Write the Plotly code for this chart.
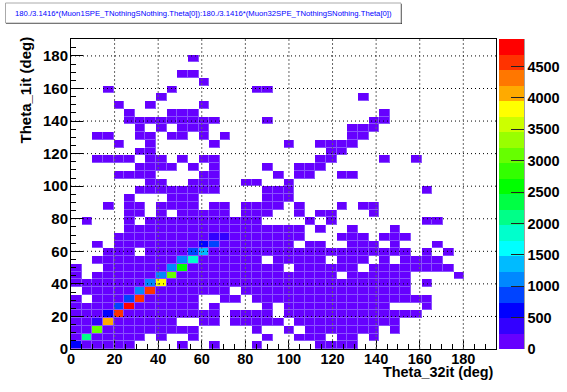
import plotly.graph_objects as go

W, H = 567, 392
L, R, T, B = 71, 496, 39, 349
N_BINS = 40
X_MAX, Y_MAX = 195.0, 190.4
Z_MAX = 4940
TITLE = "180./3.1416*(Muon1SPE_TNothingSNothing.Theta[0]):180./3.1416*(Muon32SPE_TNothingSNothing.Theta[0])"
X_LABEL = "Theta_32it (deg)"
Y_LABEL = "Theta_1it (deg)"
BAND_COLORS = ["#6600ff", "#3300ff", "#0000ff", "#0044ff", "#0088ff", "#00bbff", "#00ffff",
               "#00ffcc", "#00ff88", "#00ff44", "#00ff00", "#33ff00", "#66ff00", "#99ff00",
               "#ccff00", "#ffff00", "#ffaa00", "#ff7700", "#ff3300", "#ff0000"]

# Occupied bins per row (row index from bottom): inclusive column spans; each holds a low count
LOW_COUNT = 100
filled_spans = {
    37: [(11, 11)],
    35: [(10, 11)],
    34: [(12, 12)],
    33: [(3, 3), (9, 9), (17, 18)],
    32: [(8, 8), (27, 27)],
    31: [(4, 4), (7, 7), (12, 12)],
    30: [(5, 5), (9, 11), (29, 29)],
    29: [(5, 13), (18, 18), (28, 29)],
    28: [(6, 6), (8, 8), (10, 12), (26, 28)],
    27: [(2, 3), (6, 7), (9, 10), (12, 12), (14, 14), (26, 27)],
    26: [(4, 4), (7, 7), (13, 13), (20, 20), (23, 26)],
    25: [(6, 7), (24, 25)],
    24: [(2, 5), (7, 8), (10, 10), (12, 13), (23, 24), (29, 29), (32, 32)],
    23: [(6, 9), (11, 11), (13, 13), (18, 18), (21, 23)],
    22: [(4, 7), (12, 13), (19, 19), (21, 22), (25, 26)],
    21: [(7, 8), (11, 13), (16, 17), (20, 20)],
    20: [(6, 13), (18, 20), (33, 33)],
    19: [(5, 5), (9, 11), (18, 20)],
    18: [(3, 3), (5, 6), (8, 11), (13, 14), (16, 19), (21, 21), (25, 25), (27, 28)],
    17: [(5, 6), (8, 8), (10, 14), (16, 18), (21, 21), (23, 24), (28, 28)],
    16: [(1, 1), (5, 5), (7, 17), (22, 22), (24, 24), (33, 34)],
    15: [(5, 21), (23, 23), (26, 26), (30, 30)],
    14: [(4, 21), (25, 27), (29, 31)],
    13: [(2, 2), (4, 20), (22, 23), (26, 28), (30, 30), (34, 34)],
    12: [(3, 5), (7, 31), (33, 33), (35, 35)],
    11: [(2, 17), (19, 23), (25, 27), (29, 29), (31, 34)],
    10: [(0, 0), (3, 19), (21, 26), (28, 35)],
    9: [(0, 0), (2, 24), (26, 31), (36, 36)],
    8: [(0, 31), (33, 33)],
    7: [(1, 14), (16, 31)],
    6: [(0, 0), (2, 11), (14, 15), (17, 33)],
    5: [(0, 11), (13, 13), (18, 18), (20, 29), (33, 33)],
    4: [(0, 13), (15, 18), (20, 32)],
    3: [(0, 9), (12, 13), (15, 19), (21, 30)],
    2: [(0, 11), (17, 17), (20, 20), (22, 28), (30, 30)],
    1: [(0, 6), (8, 8), (11, 11), (18, 18), (21, 23), (25, 26), (28, 28)],
    0: [(0, 5), (10, 10), (13, 13), (17, 17), (23, 26)],
}

# Diagonal bins with higher counts
peak_rows = [0, 1, 2, 3, 3, 4, 4, 5, 5, 6, 6, 7, 7, 8, 8, 9, 9, 10, 10, 11, 11, 12, 12, 13, 13, 14, 14]
peak_cols = [0, 1, 2, 2, 3, 3, 4, 4, 5, 5, 6, 6, 7, 7, 8, 8, 9, 9, 10, 10, 11, 11, 12, 12, 13, 13, 14]
peak_vals = [620, 2100, 3080, 370, 4070, 620, 4570, 860, 4820, 860, 4570, 1110, 4570, 1110, 3820,
             1110, 3080, 1110, 2590, 1110, 1850, 860, 1350, 620, 860, 370, 370]

z = [[None] * N_BINS for _ in range(N_BINS)]
for row, spans in filled_spans.items():
    for a, b in spans:
        for c in range(a, b + 1):
            z[row][c] = LOW_COUNT
for r, c, v in zip(peak_rows, peak_cols, peak_vals):
    z[r][c] = v

mask = [[1 if v is not None else None for v in row] for row in z]

n = len(BAND_COLORS)
colorscale = []
for i, col in enumerate(BAND_COLORS):
    colorscale += [[i / n, col], [(i + 1) / n, col]]

dx, dy = X_MAX / N_BINS, Y_MAX / N_BINS
common = dict(x0=dx / 2, dx=dx, y0=dy / 2, dy=dy, hoverinfo="skip")

# page pixels -> paper fractions of the plot area
def px(x): return (x - L) / (R - L)
def py(y): return (B - y) / (B - T)

fig = go.Figure()
fig.add_trace(go.Heatmap(z=mask, zmin=0, zmax=1, colorscale=[[0, "#8a50ff"], [1, "#8a50ff"]],
                         showscale=False, **common))
fig.add_trace(go.Heatmap(
    z=z, zmin=0, zmax=Z_MAX, colorscale=colorscale, xgap=1, ygap=1,
    colorbar=dict(
        x=px(499), xanchor="left", xpad=0, y=0, yanchor="bottom", ypad=0,
        len=1, lenmode="fraction", thickness=25, thicknessmode="pixels",
        tick0=0, dtick=500, ticks="inside", ticklen=13, tickwidth=1, tickcolor="#222",
        outlinewidth=0,
        tickfont=dict(family="Liberation Sans", size=14.5, color="black", weight=700),
    ),
    **common))

bold = dict(family="Liberation Sans", size=15, color="black", weight=700)
axis = dict(showgrid=False, zeroline=False, showline=True, linecolor="black", linewidth=1, mirror=True,
            automargin=False, ticks="inside", tickcolor="black", tickwidth=1, tick0=0, dtick=20,
            minor=dict(dtick=5, ticks="inside", ticklen=5, tickcolor="black", tickwidth=1))
fig.update_xaxes(axis, range=[0, X_MAX], ticklen=9, anchor="y", ticklabelstandoff=-3,
                 tickfont=dict(bold, size=14.5))
fig.update_yaxes(axis, range=[0, Y_MAX], ticklen=12, anchor="x", ticklabelstandoff=-1, tickfont=bold)

shapes = []
for t in range(20, 181, 20):
    shapes.append(dict(type="line", xref="x", yref="paper", x0=t, x1=t, y0=0, y1=1,
                       line=dict(color="#666", width=1, dash="2px,2px"), layer="above"))
    shapes.append(dict(type="line", xref="paper", yref="y", x0=0, x1=1, y0=t, y1=t,
                       line=dict(color="black", width=1, dash="1px,3px"), layer="above"))
# title box with ROOT-style shadow
shapes.append(dict(type="rect", xref="paper", yref="paper", x0=px(6), x1=px(402), y0=py(24), y1=py(4),
                   line=dict(width=0), fillcolor="#444", layer="above"))
shapes.append(dict(type="rect", xref="paper", yref="paper", x0=px(5.5), x1=px(401), y0=py(23), y1=py(3),
                   line=dict(width=1, color="#aaa"), fillcolor="white", layer="above"))
# colour bar right edge
shapes.append(dict(type="line", xref="paper", yref="paper", x0=px(524), x1=px(524), y0=0, y1=1,
                   line=dict(color="#444", width=1), layer="above"))

annotations = [
    dict(text=TITLE, xref="paper", yref="paper", x=px(203.5), y=py(13.5), xanchor="center", yanchor="middle",
         showarrow=False, font=dict(family="Liberation Sans", size=7.7, color="#0000ff")),
    dict(text=X_LABEL, xref="paper", yref="paper", x=px(496), y=py(371.5), xanchor="right", yanchor="middle",
         showarrow=False, font=dict(bold, size=14.4)),
    dict(text=Y_LABEL, xref="paper", yref="paper", x=px(25), y=py(35), xanchor="center", yanchor="top",
         textangle=-90, showarrow=False, font=bold),
]

fig.update_layout(width=W, height=H, margin=dict(l=L, r=W - R, t=T, b=H - B, autoexpand=False),
                  paper_bgcolor="white", plot_bgcolor="white", showlegend=False,
                  shapes=shapes, annotations=annotations)
fig.write_html("out.html", config=dict(displayModeBar=False),
               post_script="document.body.style.margin='0';document.body.style.overflow='hidden';")
